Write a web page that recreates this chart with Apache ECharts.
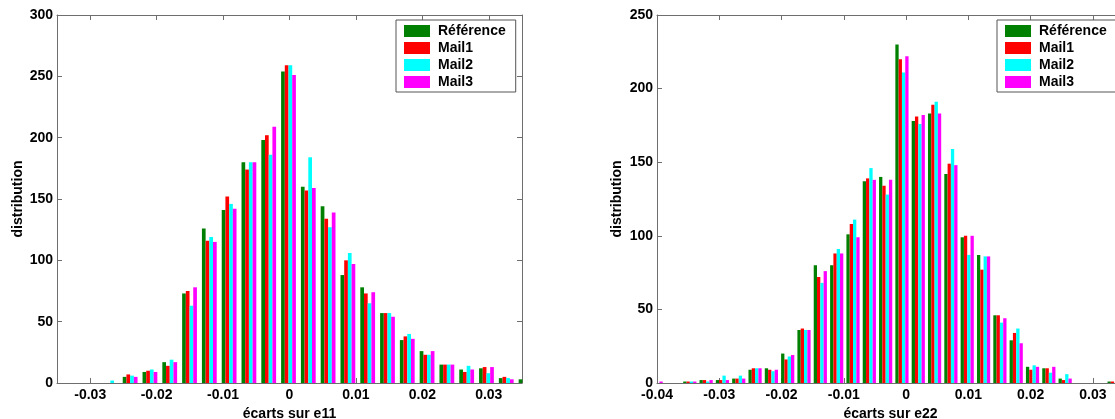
<!DOCTYPE html>
<html>
<head>
<meta charset="utf-8">
<script src="https://cdn.jsdelivr.net/npm/echarts@6/dist/echarts.min.js"></script>
<style>
html,body{margin:0;padding:0;background:#fff;overflow:hidden;width:1115px;height:419px;}
#chart{width:1135px;height:419px;}
</style>
</head>
<body>
<div id="chart"></div>
<script>
// ---------- Data ----------
const seriesNames = ['Référence', 'Mail1', 'Mail2', 'Mail3'];

// Panel 1 : écarts sur e11 (bin centres)
const e11Centers = [-0.02697, -0.02399, -0.02101, -0.01803, -0.01505, -0.01207, -0.00909, -0.00611, -0.00313, -0.00015,
  0.00283, 0.00581, 0.00879, 0.01177, 0.01475, 0.01773, 0.02071, 0.02369, 0.02667, 0.02965, 0.03263, 0.03561];
const e11Ref   = [0, 5, 9, 17, 73, 126, 141, 180, 198, 254, 160, 144, 88, 78, 57, 35, 26, 15, 11, 12, 4, 3];
const e11Mail1 = [0, 7, 10, 14, 75, 116, 152, 174, 202, 259, 157, 134, 100, 73, 57, 38, 23, 15, 9, 13, 5, null];
const e11Mail2 = [2, 6, 11, 19, 63, 119, 146, 180, 186, 259, 184, 127, 106, 65, 57, 40, 23, 15, 14, 8, 4, null];
const e11Mail3 = [0, 5, 9, 17, 78, 115, 142, 180, 209, 251, 159, 139, 97, 74, 54, 36, 26, 15, 11, 13, 3, null];

// Panel 2 : écarts sur e22 (bin centres)
const e22Centers = [-0.04014, -0.03735, -0.03473, -0.03211, -0.02949, -0.02687, -0.02425, -0.02163, -0.01901, -0.01639,
  -0.01377, -0.01114, -0.00852, -0.00590, -0.00328, -0.00066, 0.00196, 0.00458, 0.00720, 0.00982,
  0.01245, 0.01507, 0.01769, 0.02031, 0.02293, 0.02555, 0.02817, 0.03079, 0.03341];
const e22Ref   = [0, 0, 1, 2, 2, 3, 9, 10, 20, 36, 80, 80, 101, 137, 140, 230, 178, 183, 142, 99, 87, 46, 29, 11, 10, 3, 0, 0, 1];
const e22Mail1 = [0, 0, 1, 2, 2, 3, 10, 9, 16, 37, 72, 88, 108, 139, 134, 220, 181, 189, 149, 100, 77, 46, 34, 9, 10, 2, 0, 0, 1];
const e22Mail2 = [0, 0, 1, 1, 5, 5, 10, 8, 18, 36, 68, 91, 111, 146, 128, 211, 176, 191, 159, 87, 86, 41, 37, 12, 7, 6, 0, 0, 0];
const e22Mail3 = [1, 0, 1, 2, 2, 3, 10, 9, 19, 36, 76, 88, 99, 138, 138, 222, 182, 183, 148, 100, 86, 44, 27, 11, 11, 3, 0, 0, 0];

// Tick labels
const xTicks11 = [-0.03, -0.02, -0.01, 0, 0.01, 0.02, 0.03];
const xTicks22 = [-0.04, -0.03, -0.02, -0.01, 0, 0.01, 0.02, 0.03];
const yTicks11 = [0, 50, 100, 150, 200, 250, 300];
const yTicks22 = [0, 50, 100, 150, 200, 250];

// ---------- Styles ----------
const colors = ['#008000', '#ff0000', '#00ffff', '#ff00ff'];
const FONT = '"Liberation Sans", Arial, Helvetica, sans-serif';
const frameColor = '#6e6e6e';

function fmt(v) { return v === 0 ? '0' : (+v).toFixed(2); }

function xAxisPair(gridIndex, min, max, ticks, name) {
  const common = {
    type: 'value', gridIndex: gridIndex, min: min, max: max,
    splitLine: { show: false },
    axisLine: { show: true, onZero: false, lineStyle: { color: frameColor, width: 1 } },
    axisTick: { show: true, inside: true, length: 5, customValues: ticks, lineStyle: { color: frameColor } }
  };
  return [
    Object.assign({}, common, {
      position: 'bottom',
      name: name, nameLocation: 'middle', nameGap: 17,
      nameTextStyle: { fontFamily: FONT, fontWeight: 'bold', fontSize: 14, color: '#000' },
      axisLabel: { show: true, customValues: ticks, formatter: fmt, margin: 5,
        fontFamily: FONT, fontWeight: 'bold', fontSize: 14, color: '#000' }
    }),
    Object.assign({}, common, { position: 'top', axisLabel: { show: false } })
  ];
}

function yAxisPair(gridIndex, max, ticks, nameGap) {
  const common = {
    type: 'value', gridIndex: gridIndex, min: 0, max: max, interval: 50,
    splitLine: { show: false },
    axisLine: { show: true, onZero: false, lineStyle: { color: frameColor, width: 1 } },
    axisTick: { show: true, inside: true, length: 5, customValues: ticks, lineStyle: { color: frameColor } }
  };
  return [
    Object.assign({}, common, {
      position: 'left',
      name: 'distribution', nameLocation: 'middle', nameGap: nameGap, nameRotate: 90,
      nameTextStyle: { fontFamily: FONT, fontWeight: 'bold', fontSize: 14, color: '#000' },
      axisLabel: { show: true, customValues: ticks, margin: 4,
        fontFamily: FONT, fontWeight: 'bold', fontSize: 14, color: '#000' }
    }),
    Object.assign({}, common, { position: 'right', axisLabel: { show: false } })
  ];
}

function pairs(xs, ys) {
  return xs.map((x, i) => [x, ys[i]]);
}

function barSeries(xIdx, yIdx, xs, arrays, width) {
  return arrays.map((arr, i) => ({
    type: 'bar', name: seriesNames[i],
    xAxisIndex: xIdx, yAxisIndex: yIdx,
    data: pairs(xs, arr),
    barWidth: width, barGap: '0%',
    itemStyle: { color: colors[i] },
    clip: true,
    silent: true,
    animation: false
  }));
}

function legendAt(left) {
  return {
    data: seriesNames.map(n => ({ name: n, icon: 'rect' })),
    orient: 'vertical', left: left, top: 20,
    itemWidth: 26, itemHeight: 12, itemGap: 3,
    padding: [4, 10, 3, 8],
    borderColor: '#555', borderWidth: 1, backgroundColor: '#fff',
    selectedMode: false,
    textStyle: { fontFamily: FONT, fontWeight: 'bold', fontSize: 14, color: '#000', padding: [0, 0, 0, 3] }
  };
}

const option = {
  animation: false,
  backgroundColor: '#fff',
  grid: [
    { left: 57, top: 15, width: 465, height: 368, containLabel: false, outerBoundsMode: 'none' },
    { left: 657, top: 15, width: 467, height: 368, containLabel: false, outerBoundsMode: 'none' }
  ],
  xAxis: [].concat(
    xAxisPair(0, -0.035, 0.035, xTicks11, 'écarts sur e11'),
    xAxisPair(1, -0.04, 0.035, xTicks22, 'écarts sur e22')
  ),
  yAxis: [].concat(
    yAxisPair(0, 300, yTicks11, 32),
    yAxisPair(1, 250, yTicks22, 33)
  ),
  legend: [legendAt(396), legendAt(997)],
  series: [].concat(
    barSeries(0, 0, e11Centers, [e11Ref, e11Mail1, e11Mail2, e11Mail3], 3.7),
    barSeries(2, 2, e22Centers, [e22Ref, e22Mail1, e22Mail2, e22Mail3], 3.3)
  )
};

const chart = echarts.init(document.getElementById('chart'), null, { renderer: 'canvas' });
chart.setOption(option);
</script>
</body>
</html>
